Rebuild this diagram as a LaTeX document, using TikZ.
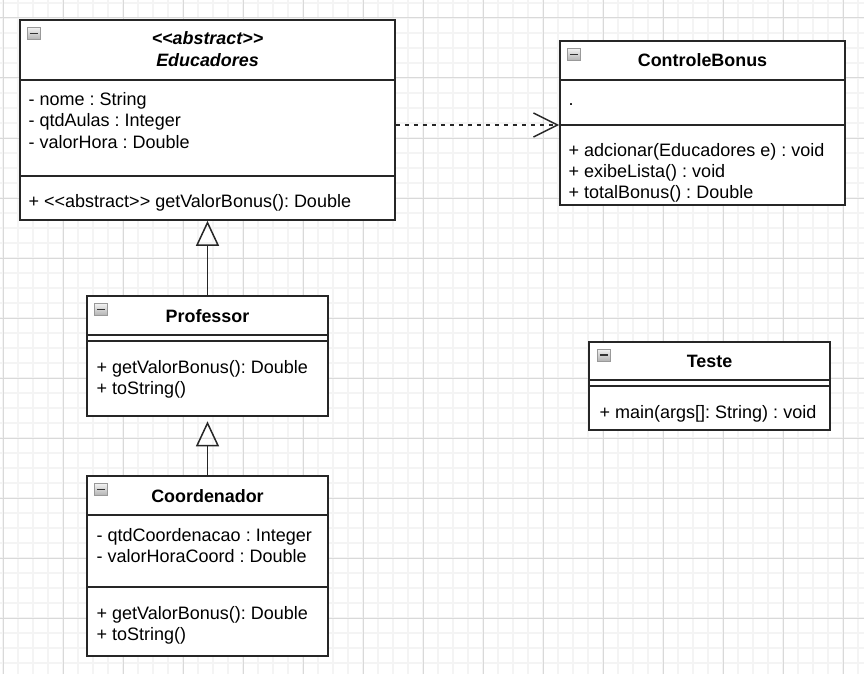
\documentclass[tikz,border=0pt]{standalone}
\usepackage{fontspec}
\setmainfont{Liberation Sans}
\usetikzlibrary{arrows.meta}
\definecolor{gridminor}{HTML}{F4F4F4}
\definecolor{gridmajor}{HTML}{D9D9D9}
\definecolor{boxc}{HTML}{262626}
\begin{document}
\frenchspacing
\begin{tikzpicture}[x=1pt,y=-1pt,
  every node/.style={font=\fontsize{18}{21}\selectfont},
  cls/.style={draw=boxc, line width=1.7pt, fill=white, inner sep=0pt, rectangle},
  divl/.style={draw=boxc, line width=1.7pt},
  txt/.style={anchor=base west, inner sep=0pt},
  ttl/.style={anchor=base, inner sep=0pt, font=\fontsize{17.9}{21}\selectfont\bfseries},
  icon/.style={draw=gray!80, line width=0.8pt, top color=gray!10, bottom color=gray!60,
    minimum width=13pt, minimum height=12pt, inner sep=0pt,
    path picture={\draw[black!80, line width=1.3pt]
      ([xshift=2.5pt]path picture bounding box.west) -- ([xshift=-2.5pt]path picture bounding box.east);}},
  gen/.style={line width=1.5pt, draw=boxc, -{Triangle[open, length=25pt, width=23pt, line width=1.5pt]}},
  dep/.style={line width=1.5pt, draw=boxc, dash pattern=on 4.5pt off 4.5pt,
    -{Straight Barb[length=24pt, width=24pt, line width=1.5pt]}}
]
\useasboundingbox (0,0) rectangle (864,674);
\fill[white] (0,0) rectangle (864,674);
% grid
\foreach \x in {3,18,...,858} \draw[gridminor, line width=1.2pt] (\x,0) -- (\x,674);
\foreach \y in {3,18,...,673} \draw[gridminor, line width=1.2pt] (0,\y) -- (864,\y);
\foreach \x in {3,63,...,843} \draw[gridmajor, line width=1pt] (\x,0) -- (\x,674);
\foreach \y in {18,78,...,618} \draw[gridmajor, line width=1pt] (0,\y) -- (864,\y);

% ---------- Educadores ----------
\node[cls, minimum width=375pt, minimum height=200pt] (edu) at (207.5,120) {};
\draw[divl] (edu.west |- 0,80) -- (edu.east |- 0,80);
\draw[divl] (edu.west |- 0,176) -- (edu.east |- 0,176);
\node[icon] (eduI) at (33.5,33.5) {};
\node[ttl, font=\fontsize{17.9}{21}\selectfont\bfseries\itshape] (eduS) at (207.5,45) {<\kern0pt<abstract>\kern0pt>};
\node[ttl, font=\fontsize{17.9}{21}\selectfont\bfseries\itshape] (eduT) at (207.5,66.5) {Educadores};
\node[txt] (eduA1) at (28.5,106) {- nome : String};
\node[txt] (eduA2) at (28.5,127) {- qtdAulas : Integer};
\node[txt] (eduA3) at (28.5,148) {- valorHora : Double};
\node[txt] (eduM1) at (28.5,207.5) {+ <\kern0pt<abstract>\kern0pt> getValorBonus(): Double};

% ---------- ControleBonus ----------
\node[cls, minimum width=285pt, minimum height=164pt] (cb) at (702.5,123) {};
\draw[divl] (cb.west |- 0,80) -- (cb.east |- 0,80);
\draw[divl] (cb.west |- 0,125) -- (cb.east |- 0,125);
\node[icon] (cbI) at (573.5,54.5) {};
\node[ttl] (cbT) at (702.5,67) {ControleBonus};
\node[txt] (cbA1) at (568.5,106) {.};
\node[txt] (cbM1) at (568.5,156.5) {+ adcionar(Educadores e) : void};
\node[txt] (cbM2) at (568.5,177.5) {+ exibeLista() : void};
\node[txt] (cbM3) at (568.5,198.5) {+ totalBonus() : Double};

% ---------- Professor ----------
\node[cls, minimum width=241pt, minimum height=120pt] (prof) at (207.5,356) {};
\draw[divl] (prof.west |- 0,335) -- (prof.east |- 0,335);
\draw[divl] (prof.west |- 0,341) -- (prof.east |- 0,341);
\node[icon] (profI) at (101,309.5) {};
\node[ttl] (profT) at (207.5,322) {Professor};
\node[txt] (profM1) at (96.5,373) {+ getValorBonus(): Double};
\node[txt] (profM2) at (96.5,394) {+ toString()};

% ---------- Coordenador ----------
\node[cls, minimum width=241pt, minimum height=180pt] (coord) at (207.5,566) {};
\draw[divl] (coord.west |- 0,515) -- (coord.east |- 0,515);
\draw[divl] (coord.west |- 0,587) -- (coord.east |- 0,587);
\node[icon] (coordI) at (101,489.5) {};
\node[ttl] (coordT) at (207.5,502) {Coordenador};
\node[txt] (coordA1) at (96.5,541) {- qtdCoordenacao : Integer};
\node[txt] (coordA2) at (96.5,562) {- valorHoraCoord : Double};
\node[txt] (coordM1) at (96.5,619) {+ getValorBonus(): Double};
\node[txt] (coordM2) at (96.5,640) {+ toString()};

% ---------- Teste ----------
\node[cls, minimum width=241pt, minimum height=88pt] (teste) at (709.5,386) {};
\draw[divl] (teste.west |- 0,380) -- (teste.east |- 0,380);
\draw[divl] (teste.west |- 0,386) -- (teste.east |- 0,386);
\node[icon] (testeI) at (603.5,355) {};
\node[ttl] (testeT) at (709.5,367) {Teste};
\node[txt] (testeM1) at (599.5,418) {+ main(args[]: String) : void};

% ---------- connectors ----------
\draw[gen] (prof.north) -- (edu.south);
\draw[gen, shorten >=4.5pt] (coord.north) -- (prof.south);
\draw[dep] (edu.east |- 0,125) -- (cb.west |- 0,125);
\end{tikzpicture}
\end{document}
